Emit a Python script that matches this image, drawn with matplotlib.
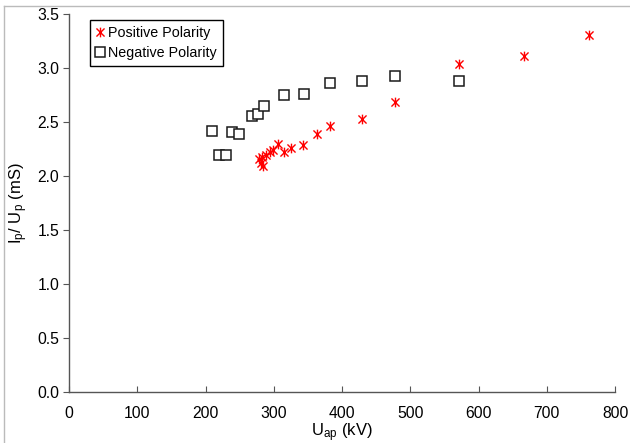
import matplotlib
matplotlib.use("Agg")
import matplotlib.pyplot as plt
from matplotlib.path import Path
from matplotlib.lines import Line2D

plt.rcParams['font.family'] = ['Liberation Sans', 'DejaVu Sans']
plt.rcParams['mathtext.fontset'] = 'custom'
plt.rcParams['mathtext.rm'] = 'Liberation Sans'
plt.rcParams['mathtext.it'] = 'Liberation Sans:italic'

pos_x = [279, 281, 283, 284, 289, 294, 299, 306, 315, 325, 343, 363, 382, 429, 477, 571, 667, 762]
pos_y = [2.16, 2.12, 2.18, 2.09, 2.20, 2.22, 2.24, 2.30, 2.22, 2.26, 2.29, 2.39, 2.46, 2.53, 2.69, 3.04, 3.11, 3.31]

neg_x = [210, 220, 230, 239, 249, 268, 277, 286, 315, 344, 383, 429, 477, 571]
neg_y = [2.42, 2.20, 2.20, 2.41, 2.39, 2.56, 2.58, 2.65, 2.75, 2.76, 2.86, 2.88, 2.93, 2.88]

xticks = [0, 100, 200, 300, 400, 500, 600, 700, 800]
yticks = [0.0, 0.5, 1.0, 1.5, 2.0, 2.5, 3.0, 3.5]

star = Path([(-1, -1), (1, 1), (-1, 1), (1, -1), (0, -1.2), (0, 1.2)],
            [Path.MOVETO, Path.LINETO, Path.MOVETO, Path.LINETO, Path.MOVETO, Path.LINETO])

fig = plt.figure(figsize=(6.3, 4.43), dpi=100)
ax = fig.add_axes([0.1095, 0.115, 0.867, 0.853])

ax.plot(pos_x, pos_y, linestyle='none', marker=star, markersize=7,
        markeredgecolor='#ff0000', markerfacecolor='none', markeredgewidth=1.0,
        label='Positive Polarity', zorder=3)
ax.plot(neg_x, neg_y, linestyle='none', marker='s', markersize=6.5,
        markeredgecolor='#1a1a1a', markerfacecolor='white', markeredgewidth=1.1,
        label='Negative Polarity', zorder=2)

ax.set_xlim(0, 800)
ax.set_ylim(0, 3.5)
ax.set_xticks(xticks)
ax.set_yticks(yticks)
ax.set_xticklabels([str(v) for v in xticks])
ax.set_yticklabels([f"{v:.1f}" for v in yticks])

for s in ['top', 'right']:
    ax.spines[s].set_visible(False)
for s in ['left', 'bottom']:
    ax.spines[s].set_color('#555555')
    ax.spines[s].set_linewidth(1.0)

ax.tick_params(axis='x', direction='in', length=4, color='#555555', labelsize=11.3, pad=10)
ax.tick_params(axis='y', direction='out', length=4, color='#555555', labelsize=11.3, pad=3)

ax.set_xlabel(r'U$_\mathregular{ap}$ (kV)', fontsize=12, labelpad=0)
ax.set_ylabel(r'I$_\mathregular{p}$/ U$_\mathregular{p}$ (mS)', fontsize=12, labelpad=5)

leg = ax.legend(loc='upper left', bbox_to_anchor=(0.038, 0.985), numpoints=1,
                handlelength=0.6, handletextpad=0.3, borderpad=0.4, labelspacing=0.45,
                fontsize=10.3, fancybox=False, framealpha=1, borderaxespad=0)
leg.get_frame().set_edgecolor('black')
leg.get_frame().set_linewidth(1.0)

fig.add_artist(Line2D([0.006, 1.0], [0.987, 0.987], transform=fig.transFigure,
                      color='#bbbbbb', linewidth=1.0))
fig.add_artist(Line2D([0.006, 0.006], [0.0, 0.987], transform=fig.transFigure,
                      color='#bbbbbb', linewidth=1.0))

fig.savefig('out.png', dpi=100)
